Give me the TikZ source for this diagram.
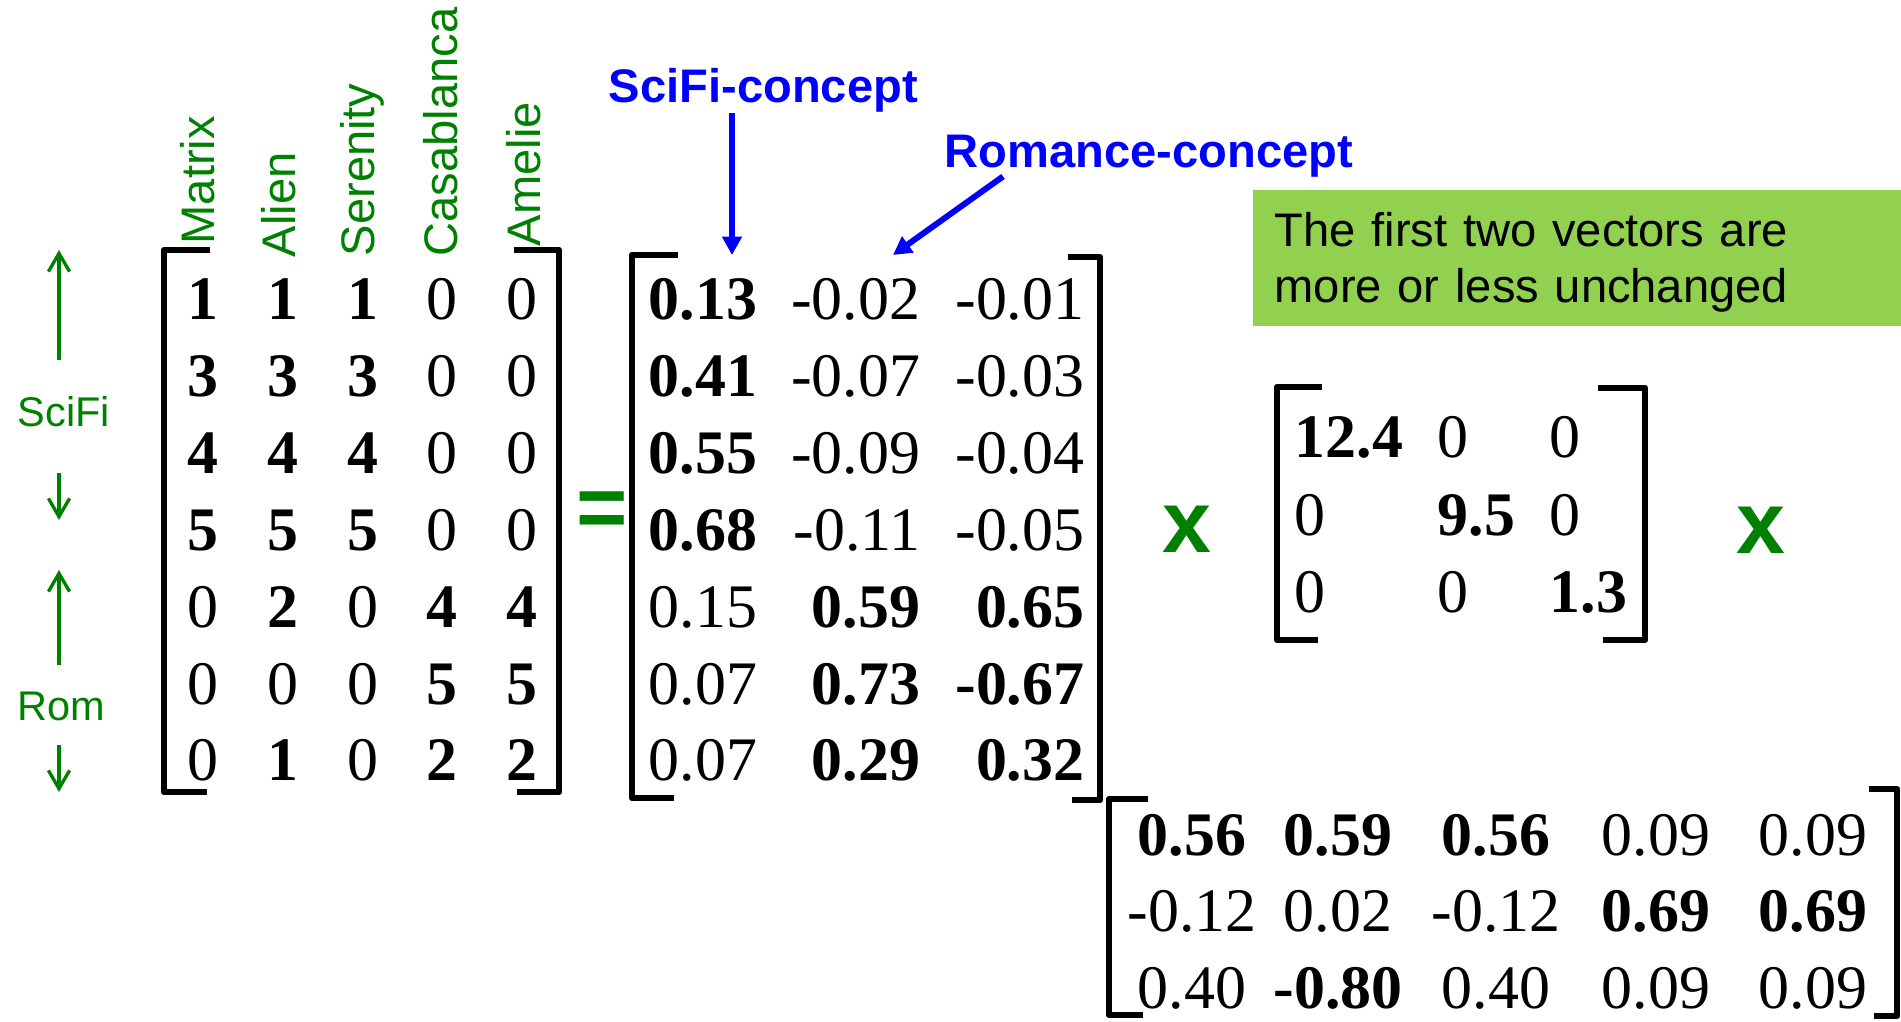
\documentclass[tikz,border=0pt]{standalone}
\usepackage{fontspec}
\setmainfont{Liberation Serif}
\setsansfont{Liberation Sans}
\usetikzlibrary{arrows.meta}
\definecolor{lblgreen}{RGB}{0,128,0}
\definecolor{lblblue}{RGB}{0,0,255}
\definecolor{notegreen}{RGB}{146,208,80}
\newcommand{\hi}[1]{\textbf{#1}}
\tikzset{
  num/.style={font=\fontsize{17.6}{20}\selectfont,inner sep=0pt},
  glab/.style={font=\sffamily\fontsize{13.4}{16}\selectfont,text=lblgreen,inner sep=0pt,anchor=base west},
  sidelab/.style={font=\sffamily\fontsize{11.8}{14}\selectfont,text=lblgreen,inner sep=0pt,anchor=base west},
  blab/.style={font=\sffamily\bfseries\fontsize{13.4}{16}\selectfont,text=lblblue,inner sep=0pt,anchor=base west},
  brk/.style={line width=1.85pt,line join=round},
  garrow/.style={lblgreen,line width=0.95pt,-{Straight Barb[length=5.2pt,width=6pt]}},
  barrow/.style={lblblue,line width=1.7pt,-{Triangle[length=5.2pt,width=5.4pt]}},
  opsign/.style={font=\sffamily\bfseries\fontsize{25}{30}\selectfont,text=lblgreen,inner sep=0pt}
}
\begin{document}
\begin{tikzpicture}[x=0.01cm,y=-0.01cm]
   \useasboundingbox (0,0) rectangle (1901,1022);
   \node [glab,rotate=90] (lmatrix) at (214,245) {Matrix};
   \node [glab,rotate=90] (lalien) at (295,258) {Alien};
   \node [glab,rotate=90] (lserenity) at (374,257) {Serenity};
   \node [glab,rotate=90] (lcasablanca) at (457,257) {Casablanca};
   \node [glab,rotate=90] (lamelie) at (540,247) {Amelie};
   \node [sidelab] (lscifi) at (17,427) {SciFi};
   \node [sidelab] (lrom) at (17,720) {Rom};
   \draw [garrow] (59,360) -- (59,250);
   \draw [garrow] (59,473) -- (59,520);
   \draw [garrow] (59,665) -- (59,570);
   \draw [garrow] (59,745) -- (59,792);
   \foreach \row [count=\ri] in {{\hi{1},\hi{1},\hi{1},0,0},{\hi{3},\hi{3},\hi{3},0,0},{\hi{4},\hi{4},\hi{4},0,0},{\hi{5},\hi{5},\hi{5},0,0},{0,\hi{2},0,\hi{4},\hi{4}},{0,0,0,\hi{5},\hi{5}},{0,\hi{1},0,\hi{2},\hi{2}}} {
     \foreach \v [count=\ci] in \row {
       \node [num,anchor=base] (a-\ri-\ci) at ({203+79.8*(\ci-1)},{320+76.8*(\ri-1)}) {\v};
     }
   }
   \draw [brk] (210,250) -- (164,250) -- (164,792) -- (207,792);
   \draw [brk] (514,250) -- (559,250) -- (559,792) -- (517,792);
   \node [opsign] (eq) at (602,515) {=};
   \foreach \row [count=\ri] in {{\hi{0.13},-0.02,-0.01},{\hi{0.41},-0.07,-0.03},{\hi{0.55},-0.09,-0.04},{\hi{0.68},-0.11,-0.05},{0.15,\hi{0.59},\hi{0.65}},{0.07,\hi{0.73},\hi{-0.67}},{0.07,\hi{0.29},\hi{0.32}}} {
     \foreach \v [count=\ci] in \row {
       \pgfmathsetmacro\px{{758,921,1085}[\ci-1]}
       \node [num,anchor=base east] (u-\ri-\ci) at (\px,{320+76.8*(\ri-1)}) {\v};
     }
   }
   \draw [brk] (678,255) -- (632,255) -- (632,798) -- (674,798);
   \draw [brk] (1068,257) -- (1100,257) -- (1100,800) -- (1072,800);
   \node [blab] (scicon) at (608,103) {SciFi-concept};
   \node [blab] (romcon) at (944,168) {Romance-concept};
   \coordinate (scitip) at (732,255);
   \coordinate (romtip) at (893,255);
   \draw [barrow] (scicon.south -| scitip) -- (scitip);
   \draw [barrow] (romcon.south west) ++(59,-2) -- (romtip);
   \node [opsign,anchor=base] (times1) at (1187,552) {x};
   \fill [notegreen] (1253,190) rectangle (1901,326);
   \node [font=\sffamily\fontsize{13.4}{15.9}\selectfont,text width=6.2cm,align=left,inner sep=0pt,anchor=base west] (note) at (1274,247) {The first two vectors are\\more or less unchanged};
   \foreach \row [count=\ri] in {{\hi{12.4},0,0},{0,\hi{9.5},0},{0,0,\hi{1.3}}} {
     \foreach \v [count=\ci] in \row {
       \pgfmathsetmacro\px{{1294,1437,1549}[\ci-1]}
       \node [num,anchor=base west] (s-\ri-\ci) at (\px,{458+77*(\ri-1)}) {\v};
     }
   }
   \draw [brk] (1322,387) -- (1277,387) -- (1277,640) -- (1318,640);
   \draw [brk] (1598,388) -- (1645,388) -- (1645,640) -- (1603,640);
   \node [opsign,anchor=base] (times2) at (1761,553) {x};
   \foreach \row [count=\ri] in {{\hi{0.56},\hi{0.59},\hi{0.56},0.09,0.09},{-0.12,0.02,-0.12,\hi{0.69},\hi{0.69}},{0.40,\hi{-0.80},0.40,0.09,0.09}} {
     \foreach \v [count=\ci] in \row {
       \pgfmathsetmacro\px{{1192,1338,1496,1656,1813}[\ci-1]}
       \node [num,anchor=base] (v-\ri-\ci) at (\px,{855+76.5*(\ri-1)}) {\v};
     }
   }
   \draw [brk] (1148,799) -- (1109,799) -- (1109,1015) -- (1143,1015);
   \draw [brk] (1869,789) -- (1897,789) -- (1897,1016) -- (1874,1016);
\end{tikzpicture}
\end{document}
